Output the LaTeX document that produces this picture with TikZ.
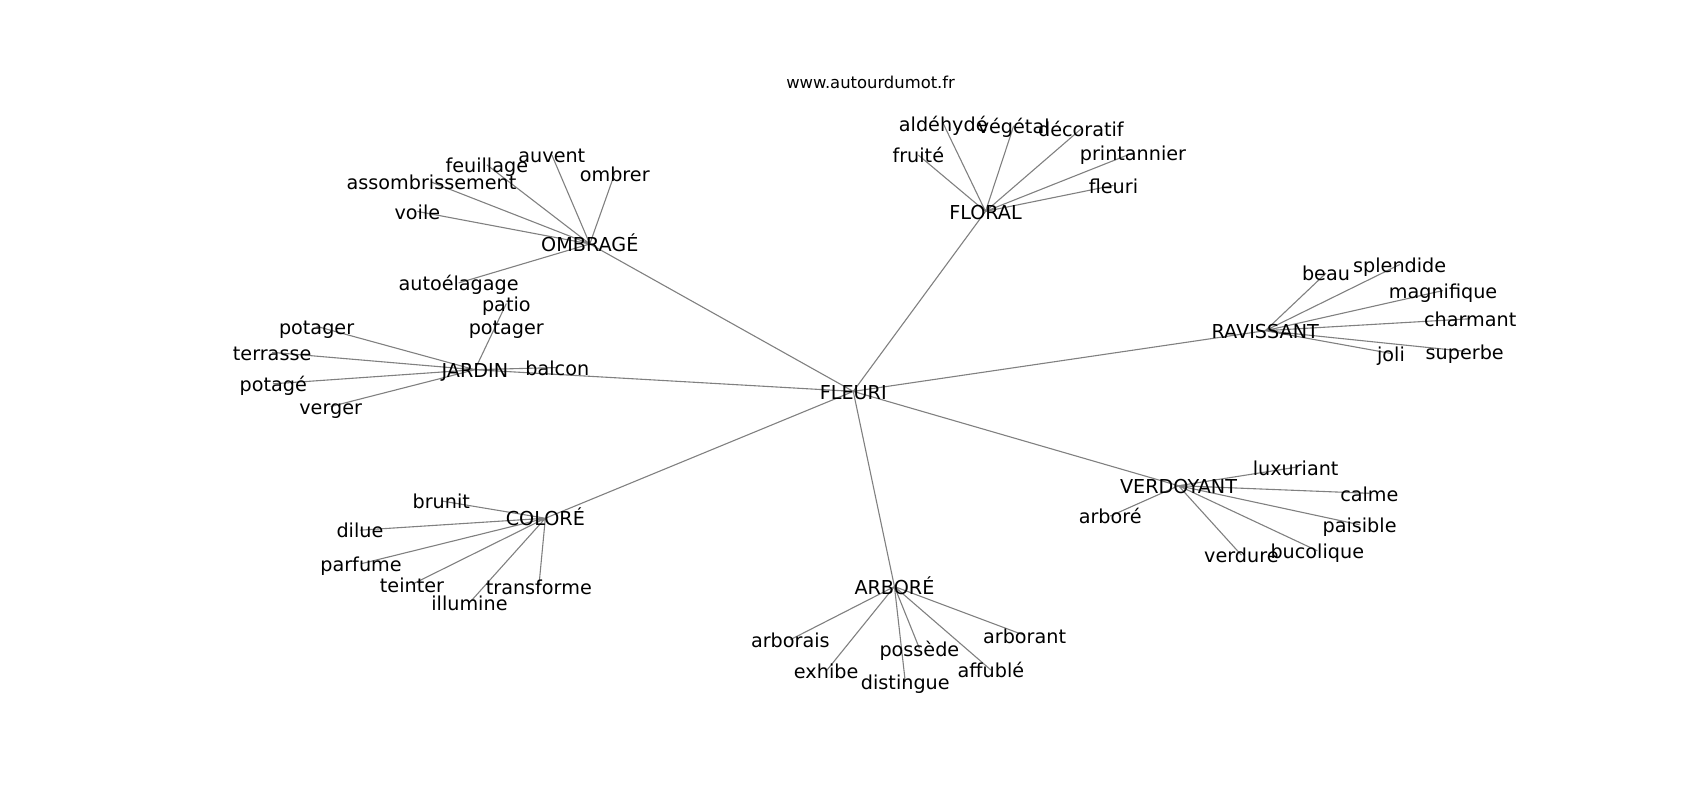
\documentclass[tikz,border=0pt]{standalone}
\usepackage{fontspec}
\setmainfont{DejaVu Sans}
\usetikzlibrary{backgrounds}

\begin{document}
\begin{tikzpicture}[
  x=1.0842pt, y=-1.0842pt,
  word/.style={inner sep=0pt, font=\fontsize{19.2}{23}\selectfont, text height=15.5pt, text depth=0pt},
  link/.style={draw=black!50, line width=1.1pt},
  site/.style={inner sep=0pt, font=\fontsize{16.4}{20}\selectfont}
]
\useasboundingbox (0,0) rectangle (1568,738);

% Source
\node[site] (site) at (803,76) {www.autourdumot.fr};

% Hubs
\node[word] (fleuri) at (787,361) {FLEURI};
\node[word] (ombrage) at (544,225) {OMBRAGÉ};
\node[word] (floral) at (909,195) {FLORAL};
\node[word] (ravissant) at (1167,305) {RAVISSANT};
\node[word] (jardin) at (438,341) {JARDIN};
\node[word] (verdoyant) at (1087,448) {VERDOYANT};
\node[word] (colore) at (503,478) {COLORÉ};
\node[word] (arbore) at (825,541) {ARBORÉ};

% OMBRAGÉ
\node[word] (auvent) at (509,143) {auvent};
\node[word] (feuillage) at (449,152) {feuillage};
\node[word] (assombrissement) at (398,168) {assombrissement};
\node[word] (ombrer) at (567,160) {ombrer};
\node[word] (voile) at (385,195) {voile};
\node[word] (autoelagage) at (423,261) {autoélagage};

% JARDIN
\node[word] (potager) at (292,301) {potager};
\node[word] (terrasse) at (251,325) {terrasse};
\node[word] (potage) at (252,354) {potagé};
\node[word] (verger) at (305,375) {verger};
\node[word] (patio) at (467,280) {patio};
\node[word] (potager2) at (467,301) {potager};
\node[word] (balcon) at (514,339) {balcon};

% FLORAL
\node[word] (aldehyde) at (870,114) {aldéhydé};
\node[word] (vegetal) at (935,116) {végétal};
\node[word] (decoratif) at (997,119) {décoratif};
\node[word] (fruite) at (847,143) {fruité};
\node[word] (printannier) at (1045,141) {printannier};
\node[word] (fleuri2) at (1027,171) {fleuri};

% RAVISSANT
\node[word] (beau) at (1223,252) {beau};
\node[word] (splendide) at (1291,244) {splendide};
\node[word] (magnifique) at (1331,268) {magnifique};
\node[word] (charmant) at (1356,294) {charmant};
\node[word] (joli) at (1283,326) {joli};
\node[word] (superbe) at (1351,324) {superbe};

% VERDOYANT
\node[word] (luxuriant) at (1195,431) {luxuriant};
\node[word] (calme) at (1263,455) {calme};
\node[word] (paisible) at (1254,484) {paisible};
\node[word] (bucolique) at (1215,508) {bucolique};
\node[word] (verdure) at (1145,512) {verdure};
\node[word] (arbore2) at (1024,476) {arboré};

% COLORÉ
\node[word] (brunit) at (407,462) {brunit};
\node[word] (dilue) at (332,489) {dilue};
\node[word] (parfume) at (333,520) {parfume};
\node[word] (teinter) at (380,539) {teinter};
\node[word] (illumine) at (433,556) {illumine};
\node[word] (transforme) at (497,541) {transforme};

% ARBORÉ
\node[word] (arborais) at (729,590) {arborais};
\node[word] (exhibe) at (762,619) {exhibe};
\node[word] (distingue) at (835,629) {distingue};
\node[word] (possede) at (848,598) {possède};
\node[word] (affuble) at (914,618) {affublé};
\node[word] (arborant) at (945,586) {arborant};

% Links
\begin{pgfonlayer}{background}
\draw[link] (fleuri.center) -- (ombrage.center) (fleuri.center) -- (floral.center)
  (fleuri.center) -- (ravissant.center) (fleuri.center) -- (jardin.center)
  (fleuri.center) -- (verdoyant.center) (fleuri.center) -- (colore.center)
  (fleuri.center) -- (arbore.center);
\draw[link] (ombrage.center) -- (auvent.center) (ombrage.center) -- (feuillage.center)
  (ombrage.center) -- (assombrissement.center) (ombrage.center) -- (ombrer.center)
  (ombrage.center) -- (voile.center) (ombrage.center) -- (autoelagage.center);
\draw[link] (jardin.center) -- (potager.center) (jardin.center) -- (terrasse.center)
  (jardin.center) -- (potage.center) (jardin.center) -- (verger.center)
  (jardin.center) -- (patio.center) (jardin.center) -- (balcon.center);
\draw[link] (floral.center) -- (aldehyde.center) (floral.center) -- (vegetal.center)
  (floral.center) -- (decoratif.center) (floral.center) -- (fruite.center)
  (floral.center) -- (printannier.center) (floral.center) -- (fleuri2.center);
\draw[link] (ravissant.center) -- (beau.center) (ravissant.center) -- (splendide.center)
  (ravissant.center) -- (magnifique.center) (ravissant.center) -- (charmant.center)
  (ravissant.center) -- (joli.center) (ravissant.center) -- (superbe.center);
\draw[link] (verdoyant.center) -- (luxuriant.center) (verdoyant.center) -- (calme.center)
  (verdoyant.center) -- (paisible.center) (verdoyant.center) -- (bucolique.center)
  (verdoyant.center) -- (verdure.center) (verdoyant.center) -- (arbore2.center);
\draw[link] (colore.center) -- (brunit.center) (colore.center) -- (dilue.center)
  (colore.center) -- (parfume.center) (colore.center) -- (teinter.center)
  (colore.center) -- (illumine.center) (colore.center) -- (transforme.center);
\draw[link] (arbore.center) -- (arborais.center) (arbore.center) -- (exhibe.center)
  (arbore.center) -- (distingue.center) (arbore.center) -- (possede.center)
  (arbore.center) -- (affuble.center) (arbore.center) -- (arborant.center);
\end{pgfonlayer}

\end{tikzpicture}
\end{document}
